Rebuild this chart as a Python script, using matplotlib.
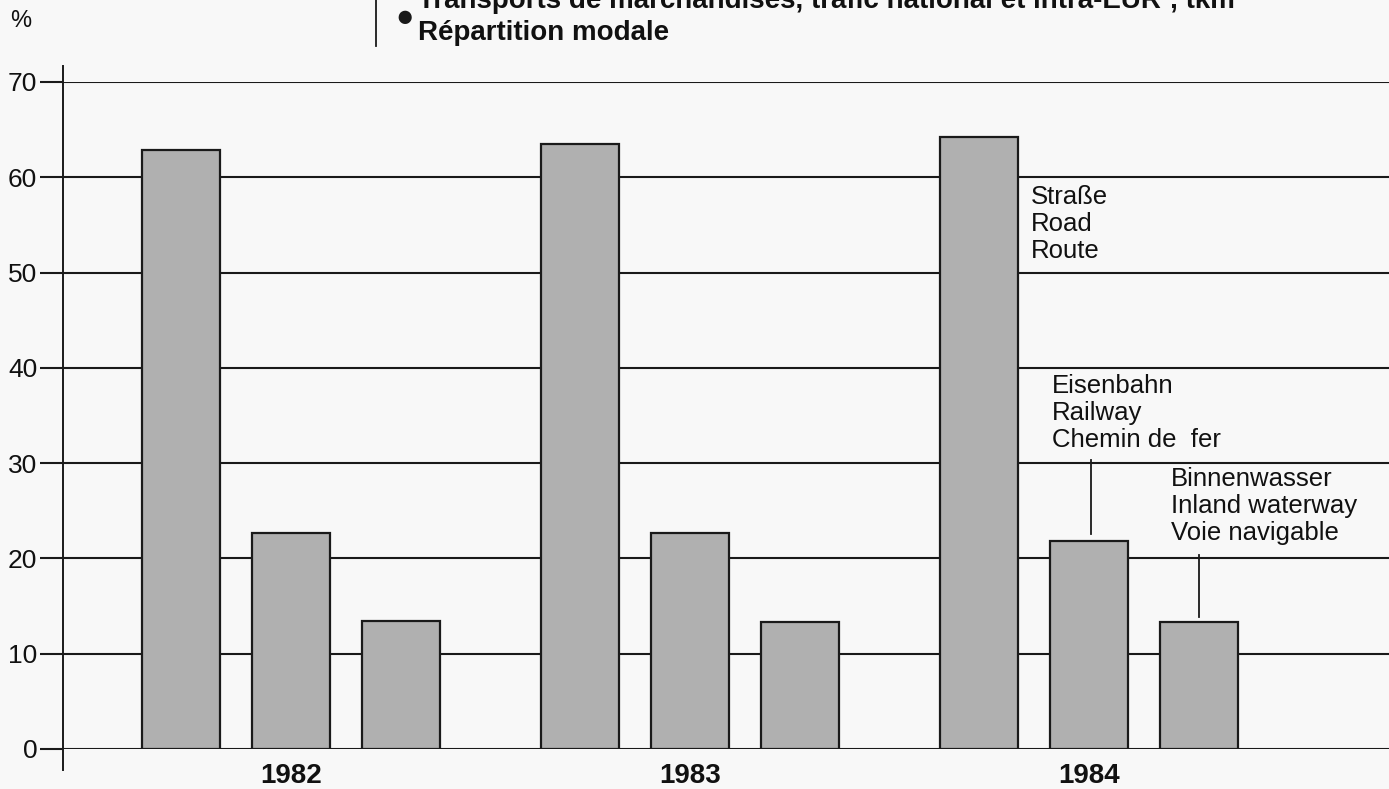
import matplotlib
matplotlib.use("Agg")
import matplotlib.pyplot as plt
import numpy as np

plt.rcParams['font.family'] = ['Liberation Sans', 'DejaVu Sans']

years = ['1982', '1983', '1984']
modes = ['Road', 'Railway', 'Inland waterway']
road = [62.9, 63.5, 64.2]
rail = [22.7, 22.7, 21.8]
water = [13.4, 13.3, 13.3]
yticks = [0, 10, 20, 30, 40, 50, 60, 70]
title_line1 = 'Transports de marchandises, trafic national et intra-EUR\u00b9, tkm'
title_line2 = 'Répartition modale'
label_road = ['Straße', 'Road', 'Route']
label_rail = ['Eisenbahn', 'Railway', 'Chemin de  fer']
label_water = ['Binnenwasser', 'Inland waterway', 'Voie navigable']

W, H = 1389, 789
fig = plt.figure(figsize=(W / 100, H / 100), dpi=100)
fig.patch.set_facecolor('#f8f8f8')

# axes placement (pixel based)
left_px, right_px, top_px, bot_px = 63, 1389, 82, 749
ax = fig.add_axes([left_px / W, 1 - bot_px / H, (right_px - left_px) / W, (bot_px - top_px) / H])
ax.set_facecolor('none')

px_per_unit = 399.0
center0 = 291.0
ax.set_xlim((left_px - center0) / px_per_unit, (right_px - center0) / px_per_unit)
ax.set_ylim(0, 70)

x = np.arange(len(years))
off = 0.2757
bw = 0.196
bar_kw = dict(width=bw, color='#b0b0b0', edgecolor='#1a1a1a', linewidth=1.6, zorder=3)
ax.bar(x - off, road, **bar_kw)
ax.bar(x, rail, **bar_kw)
ax.bar(x + off, water, **bar_kw)

# grid lines
ax.set_yticks(yticks)
ax.set_yticklabels([str(v) for v in yticks], fontsize=19, color='#111111')
ax.tick_params(axis='y', length=16.5, width=1.5, color='#1a1a1a', pad=2)
ax.yaxis.grid(True, color='#1a1a1a', linewidth=1.5, zorder=1)
ax.set_axisbelow(True)
ax.set_xticks([])
for s in ax.spines.values():
    s.set_visible(False)

# vertical axis line extending beyond range
xmin = ax.get_xlim()[0]
ax.plot([xmin, xmin], [-2.2, 71.7], color='#1a1a1a', linewidth=1.4, clip_on=False, zorder=4)

# year labels
for i, yr in enumerate(years):
    ax.text(x[i], -2.8, yr, ha='center', va='center', fontsize=20, fontweight='bold', color='#111111')

def px2data(px, py):
    return (px - center0) / px_per_unit, (bot_px - py) / ((bot_px - top_px) / 70.0)

def lines(px, baselines, texts):
    for b, t in zip(baselines, texts):
        xd, yd = px2data(px, b)
        ax.text(xd, yd, t, ha='left', va='baseline', fontsize=18.5, color='#111111', zorder=5)

lines(1031, [204, 231, 258], label_road)
lines(1052, [393, 420, 447], label_rail)
lines(1171, [486, 513, 540], label_water)

# leader lines
x1, y1 = px2data(1091, 460)
_, y2 = px2data(1091, 534)
ax.plot([x1, x1], [y1, y2], color='#1a1a1a', linewidth=1.3, zorder=5)
x3, y3 = px2data(1199, 555)
_, y4 = px2data(1199, 617)
ax.plot([x3, x3], [y3, y4], color='#1a1a1a', linewidth=1.3, zorder=5)

# percent sign
fig.text(10 / W, 1 - 21 / H, '%', ha='left', va='center', fontsize=17, color='#111111')

# title block (first line is cut at the top edge, as in the original)
fig.add_artist(plt.Line2D([376 / W, 376 / W], [1 - 46 / H, 1.0], color='#1a1a1a', linewidth=1.3))
fig.text(405 / W, 1 - 18 / H, '\u25cf', ha='center', va='center', fontsize=22, color='#1a1a1a')
fig.text(418 / W, 1 - 8 / H, title_line1, ha='left', va='baseline', fontsize=20, fontweight='bold', color='#111111')
fig.text(418 / W, 1 - 40 / H, title_line2, ha='left', va='baseline', fontsize=20, fontweight='bold', color='#111111')

fig.savefig('out.png', dpi=100, facecolor=fig.get_facecolor())
